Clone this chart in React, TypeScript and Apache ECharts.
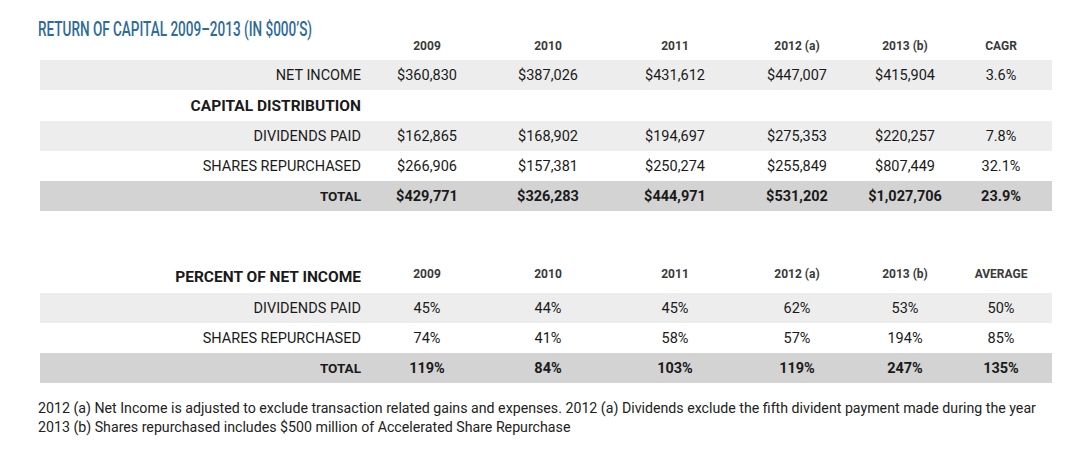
import React, { useEffect, useRef } from "react";
import * as echarts from "echarts";

const title = "RETURN OF CAPITAL 2009–2013 (IN $000’S)";
const years = ["2009", "2010", "2011", "2012 (a)", "2013 (b)"];
const netIncome = [360830, 387026, 431612, 447007, 415904];
const netIncomeCagr = 3.6;
const dividendsPaid = [162865, 168902, 194697, 275353, 220257];
const dividendsCagr = 7.8;
const sharesRepurchased = [266906, 157381, 250274, 255849, 807449];
const sharesCagr = 32.1;
const totalReturn = [429771, 326283, 444971, 531202, 1027706];
const totalCagr = 23.9;

const pctDividends = [45, 44, 45, 62, 53];
const pctDividendsAvg = 50;
const pctShares = [74, 41, 58, 57, 194];
const pctSharesAvg = 85;
const pctTotal = [119, 84, 103, 119, 247];
const pctTotalAvg = 135;

const footnotes = [
  "2012 (a) Net Income is adjusted to exclude transaction related gains and expenses. 2012 (a) Dividends exclude the fifth divident payment made during the year",
  "2013 (b) Shares repurchased includes $500 million of Accelerated Share Repurchase",
];

const money = (v: number) => "$" + v.toLocaleString("en-US");
const pct1 = (v: number) => v.toFixed(1) + "%";
const pct0 = (v: number) => v + "%";

const COLS = [427, 548, 675, 797, 905, 1001];
const LABEL_X = 361;
const BAND_X = 40;
const BAND_W = 1012;
const ROW_H = 30;
const FONT = "Roboto, 'DejaVu Sans', sans-serif";
const LIGHT = "#ededed";
const DARK = "#d3d3d3";

function buildGraphics() {
  const els: any[] = [];
  const band = (y: number, color: string) =>
    els.push({ type: "rect", shape: { x: BAND_X, y, width: BAND_W, height: ROW_H }, style: { fill: color }, silent: true });
  const txt = (x: number, y: number, s: string, align: string, opts: any = {}) =>
    els.push({
      type: "text",
      x,
      y,
      style: {
        text: s,
        textAlign: align,
        textVerticalAlign: "middle",
        fontFamily: FONT,
        fontSize: opts.size || 14,
        fontWeight: opts.weight || "normal",
        fill: opts.color || "#1a1a1a",
      },
      scaleX: opts.scaleX || 1,
      silent: true,
    });

  // title
  els.push({
    type: "text",
    x: 38,
    y: 29,
    scaleX: 0.645,
    style: {
      text: title,
      textAlign: "left",
      textVerticalAlign: "middle",
      fontFamily: FONT,
      fontSize: 21,
      fontWeight: 500,
      fill: "#2d6b9c",
    },
  });

  const header = (y: number, last: string) => {
    years.forEach((yr, i) => txt(COLS[i], y, yr, "center", { size: 12, weight: "bold", color: "#3a3a3a" }));
    txt(COLS[5], y, last, "center", { size: 12, weight: "bold", color: "#3a3a3a" });
  };

  const row = (y: number, color: string | null, label: string, vals: string[], last: string, bold = false) => {
    if (color) band(y, color);
    const cy = y + ROW_H / 2;
    txt(LABEL_X, cy, label, "right", { size: bold ? 13.5 : 14.5, weight: bold ? "bold" : "normal" });
    vals.forEach((v, i) => txt(COLS[i], cy, v, "center", { size: 14.5, weight: bold ? "bold" : "normal" }));
    txt(COLS[5], cy, last, "center", { size: 14.5, weight: bold ? "bold" : "normal" });
  };

  // top table
  header(46, "CAGR");
  row(60, LIGHT, "NET INCOME", netIncome.map(money), pct1(netIncomeCagr));
  txt(LABEL_X, 106, "CAPITAL DISTRIBUTION", "right", { size: 15.5, weight: "bold" });
  row(121, LIGHT, "DIVIDENDS PAID", dividendsPaid.map(money), pct1(dividendsCagr));
  row(151, null, "SHARES REPURCHASED", sharesRepurchased.map(money), pct1(sharesCagr));
  row(181, DARK, "TOTAL", totalReturn.map(money), pct1(totalCagr), true);

  // bottom table
  txt(LABEL_X, 277, "PERCENT OF NET INCOME", "right", { size: 15.5, weight: "bold" });
  header(274, "AVERAGE");
  row(293, LIGHT, "DIVIDENDS PAID", pctDividends.map(pct0), pct0(pctDividendsAvg));
  row(323, null, "SHARES REPURCHASED", pctShares.map(pct0), pct0(pctSharesAvg));
  row(353, DARK, "TOTAL", pctTotal.map(pct0), pct0(pctTotalAvg), true);

  footnotes.forEach((f, i) => txt(38, 408 + i * 19, f, "left", { size: 14.2, color: "#222" }));
  return els;
}

export default function App() {
  const ref = useRef<HTMLDivElement>(null);
  useEffect(() => {
    document.body.style.margin = "0";
    const chart = echarts.init(ref.current!, null, { renderer: "svg" });
    chart.setOption({
      animation: false,
      backgroundColor: "#ffffff",
      graphic: { elements: buildGraphics() },
    });
    return () => chart.dispose();
  }, []);
  return <div ref={ref} style={{ width: 1091, height: 464 }} />;
}
